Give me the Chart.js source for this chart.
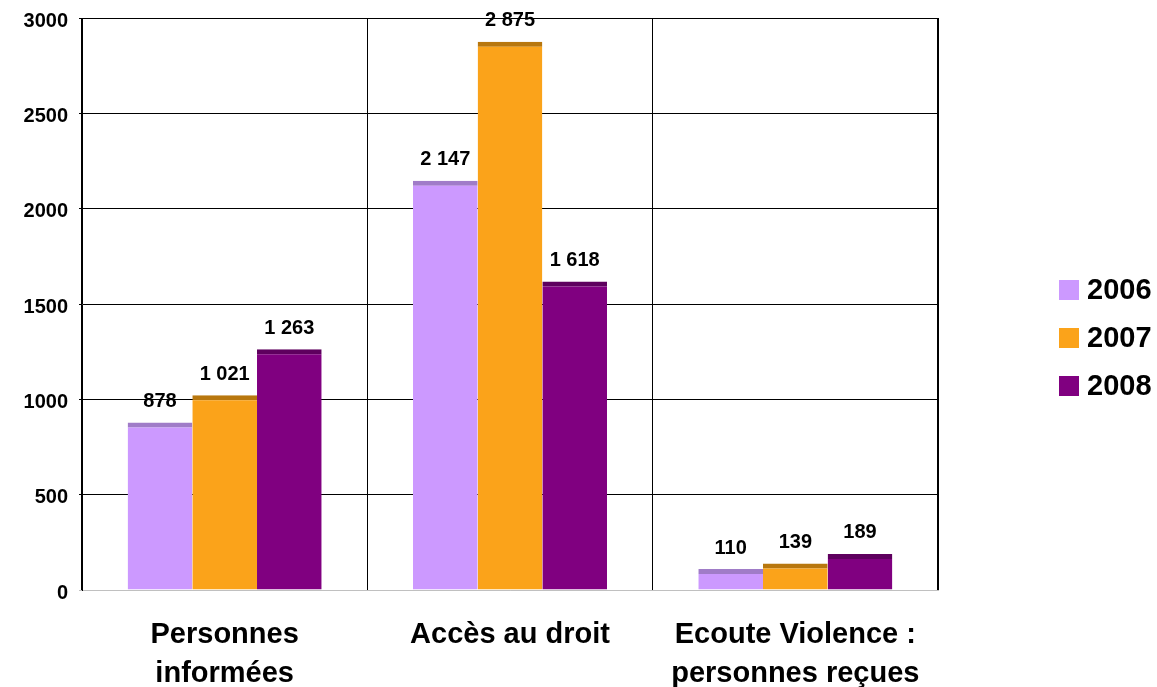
<!DOCTYPE html>
<html>
<head>
<meta charset="utf-8">
<script src="https://cdn.jsdelivr.net/npm/chart.js@4/dist/chart.umd.min.js"></script>
<style>
  html, body { margin: 0; padding: 0; background: #ffffff; }
  #wrap { width: 1157px; height: 687px; position: relative; }
</style>
</head>
<body>
<div id="wrap"><canvas id="chart"></canvas></div>
<script>
const categories = [['Personnes', 'informées'], 'Accès au droit', ['Ecoute Violence :', 'personnes reçues']];
const years = ['2006', '2007', '2008'];
const values2006 = [878, 2147, 110];
const values2007 = [1021, 2875, 139];
const values2008 = [1263, 1618, 189];
const fills = ['#cc99ff', '#fba31a', '#800080'];
const tops = ['#a07cc8', '#b8770e', '#5e005e'];
const yTicks = [0, 500, 1000, 1500, 2000, 2500, 3000];

const FONT = "'Liberation Sans', Arial, sans-serif";

const fmt = v => String(v).replace(/\B(?=(\d{3})+(?!\d))/g, ' ');

const valueLabels = {
    id: 'valueLabels',
    afterDatasetsDraw(chart) {
        const ctx = chart.ctx;
        ctx.save();
        ctx.font = `bold 20px ${FONT}`;
        ctx.fillStyle = '#000';
        ctx.textAlign = 'center';
        ctx.textBaseline = 'middle';
        chart.data.datasets.forEach((ds, i) => {
            chart.getDatasetMeta(i).data.forEach((bar, j) => {
                ctx.fillText(fmt(ds.data[j]), bar.x, bar.y - 21);
            });
        });
        ctx.restore();
    },
};

const sideLegend = {
    id: 'sideLegend',
    afterDraw(chart) {
        const ctx = chart.ctx;
        ctx.save();
        ctx.font = `bold 29px ${FONT}`;
        ctx.textBaseline = 'middle';
        chart.data.datasets.forEach((ds, i) => {
            const y = 290 + i * 48;
            ctx.fillStyle = ds.backgroundColor;
            ctx.fillRect(1059, y - 10, 20, 20);
            ctx.fillStyle = '#000';
            ctx.fillText(ds.label, 1087, y + 1);
        });
        ctx.restore();
    },
};

const series = [values2006, values2007, values2008];

new Chart(document.getElementById('chart'), {
    type: 'bar',
    data: {
        labels: categories,
        datasets: series.map((data, i) => ({
            label: years[i],
            data: data,
            backgroundColor: fills[i],
            borderColor: tops[i],
            borderWidth: { top: 5, left: 0, right: 0, bottom: 0 },
            borderSkipped: 'bottom',
            categoryPercentage: 0.68,
            barPercentage: 1.0,
        })),
    },
    options: {
        responsive: true,
        maintainAspectRatio: false,
        animation: false,
        layout: { padding: { top: 18, right: 219, left: 0, bottom: 0 } },
        plugins: {
            legend: { display: false },
            tooltip: { enabled: false },
        },
        scales: {
            x: {
                grid: {
                    offset: true,
                    color: '#000',
                    lineWidth: c => c.tick ? 1 : 2,
                    drawTicks: false,
                },
                border: { color: '#c0c0c0', width: 1 },
                ticks: {
                    font: { size: 29, weight: 'bold', family: FONT, lineHeight: 1.34 },
                    color: '#000',
                    padding: 26,
                    maxRotation: 0,
                },
                afterFit(scale) { scale.height = 97; },
            },
            y: {
                min: 0,
                max: 3000,
                afterBuildTicks(scale) { scale.ticks = yTicks.map(v => ({ value: v })); },
                grid: {
                    color: c => c.tick && c.tick.value === 0 ? '#c0c0c0' : '#000',
                    lineWidth: 1,
                    tickLength: 3,
                },
                border: { color: '#000', width: 1 },
                ticks: {
                    font: { size: 20, weight: 'bold', family: FONT, lineHeight: 0.5 },
                    color: '#000',
                    padding: 11,
                    labelOffset: 3,
                    callback: v => String(v),
                },
                afterFit(scale) { scale.width = 82; },
            },
        },
    },
    plugins: [valueLabels, sideLegend],
});
</script>
</body>
</html>
